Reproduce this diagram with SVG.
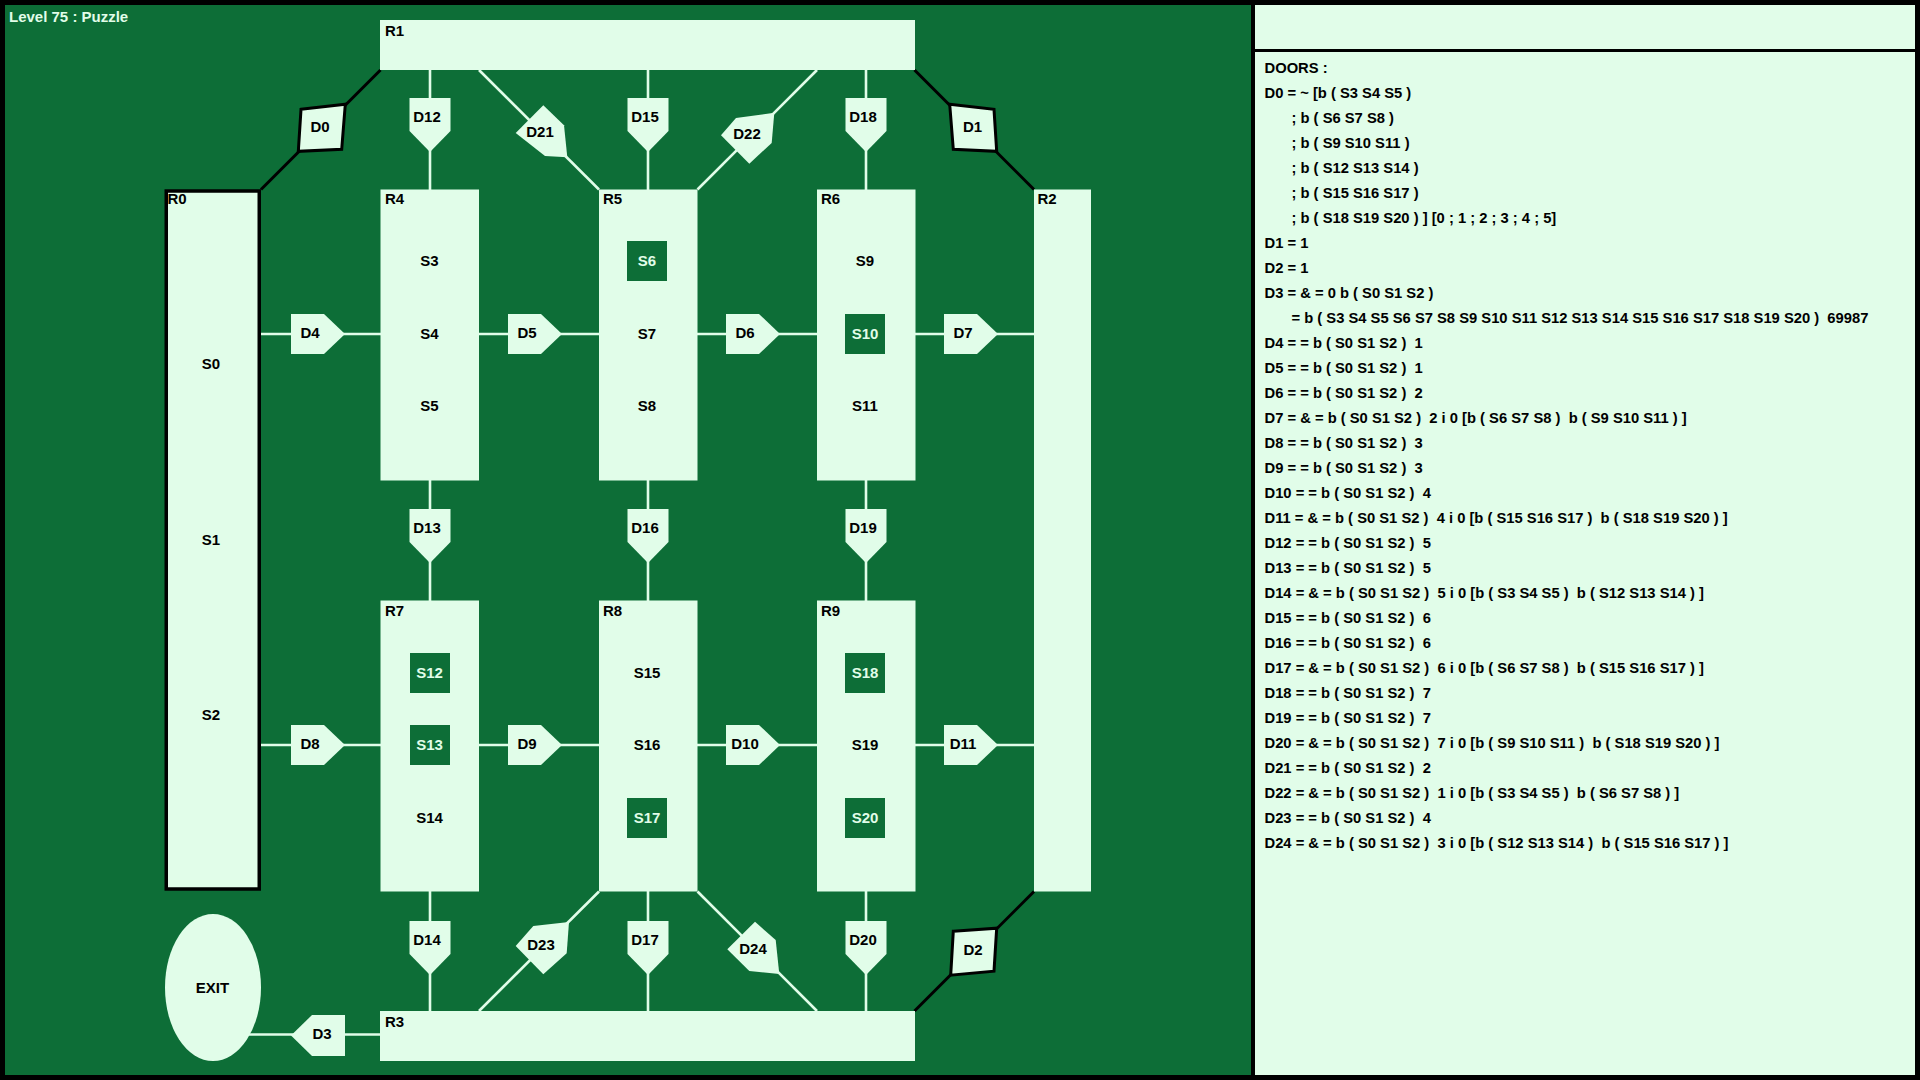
<svg xmlns="http://www.w3.org/2000/svg" xmlns:xlink="http://www.w3.org/1999/xlink" width="1920" height="1080" viewBox="0 0 1920 1080">
<style>
.bg{fill:#0d6e37}
.lt{fill:#e1fde9}
.ln{stroke:#e1fde9;stroke-width:2.6;fill:none}
.bk{stroke:#000;stroke-width:3;fill:none}
.dq{fill:#e1fde9;stroke:#000;stroke-width:3;stroke-linejoin:miter}
.sb{fill:#0d6e37}
text{font-family:"Liberation Sans",Arial,sans-serif;font-weight:bold;font-size:15px;fill:#000}
.c{text-anchor:middle}
.w{fill:#e1fde9}
.p{font-size:14.75px;white-space:pre}
</style>
<defs>
<polygon id="doorR" class="lt" points="0,-20 33,-20 54,0 33,20 0,20"/>
<polygon id="doorL" class="lt" points="0,0 21,-20.5 54,-20.5 54,20.5 21,20.5"/>
<polygon id="doorD" class="lt" points="-20.5,0 20.5,0 20.5,33 0,54 -20.5,33"/>
<rect id="sbox" class="sb" x="-20" y="-20" width="40" height="40"/>
</defs>
<rect x="0" y="0" width="1920" height="1080" fill="#000"/>
<rect class="bg" x="5" y="5" width="1246" height="1070"/>
<rect class="lt" x="1255" y="5" width="660" height="44"/>
<rect class="lt" x="1255" y="52" width="660" height="1023"/>
<text class="w" x="9" y="21.7">Level 75 : Puzzle</text>

<g id="connectors">
<line class="ln" x1="261" y1="334" x2="381" y2="334"/>
<line class="ln" x1="479" y1="334" x2="599" y2="334"/>
<line class="ln" x1="697" y1="334" x2="817" y2="334"/>
<line class="ln" x1="915" y1="334" x2="1034" y2="334"/>
<line class="ln" x1="261" y1="745" x2="381" y2="745"/>
<line class="ln" x1="479" y1="745" x2="599" y2="745"/>
<line class="ln" x1="697" y1="745" x2="817" y2="745"/>
<line class="ln" x1="915" y1="745" x2="1034" y2="745"/>
<line class="ln" x1="430" y1="70" x2="430" y2="190"/>
<line class="ln" x1="430" y1="480" x2="430" y2="601"/>
<line class="ln" x1="430" y1="891" x2="430" y2="1011"/>
<line class="ln" x1="648" y1="70" x2="648" y2="190"/>
<line class="ln" x1="648" y1="480" x2="648" y2="601"/>
<line class="ln" x1="648" y1="891" x2="648" y2="1011"/>
<line class="ln" x1="866" y1="70" x2="866" y2="190"/>
<line class="ln" x1="866" y1="480" x2="866" y2="601"/>
<line class="ln" x1="866" y1="891" x2="866" y2="1011"/>
<line class="ln" x1="479" y1="70" x2="599" y2="189.5"/>
<line class="ln" x1="817" y1="70" x2="697.5" y2="189.5"/>
<line class="ln" x1="599" y1="891.5" x2="479" y2="1011"/>
<line class="ln" x1="697.5" y1="891.5" x2="817" y2="1011"/>
<line class="ln" x1="248" y1="1034.5" x2="381" y2="1034.5"/>
<line class="bk" x1="380.5" y1="70" x2="261" y2="189.5"/>
<line class="bk" x1="914.5" y1="70" x2="1034" y2="189.5"/>
<line class="bk" x1="1034" y1="891.5" x2="914.5" y2="1011"/>
</g>

<g id="R0"><rect class="lt" x="166.25" y="191" width="93" height="698" stroke="#000" stroke-width="3.5"/><text x="167.5" y="204.3">R0</text>
<text class="c" x="211" y="369">S0</text><text class="c" x="211" y="545.3">S1</text><text class="c" x="211" y="719.5">S2</text></g>
<g id="R1"><rect class="lt" x="380" y="20" width="535" height="50"/><text x="385" y="36">R1</text></g>
<g id="R2"><rect class="lt" x="1034" y="189.5" width="57" height="702"/><text x="1037.5" y="204.3">R2</text></g>
<g id="R3"><rect class="lt" x="380" y="1011" width="535" height="50"/><text x="385" y="1027">R3</text></g>
<g id="R4"><rect class="lt" x="380.5" y="189.5" width="98.5" height="291"/><text x="385" y="204.3">R4</text>
<text class="c" x="429.5" y="265.6">S3</text><text class="c" x="429.5" y="338.9">S4</text><text class="c" x="429.5" y="411.2">S5</text></g>
<g id="R5"><rect class="lt" x="599" y="189.5" width="98.5" height="291"/><text x="603" y="204.3">R5</text>
<use href="#sbox" x="647" y="261"/><text class="c w" x="647" y="265.6">S6</text><text class="c" x="647" y="338.9">S7</text><text class="c" x="647" y="411.2">S8</text></g>
<g id="R6"><rect class="lt" x="817" y="189.5" width="98.5" height="291"/><text x="821" y="204.3">R6</text>
<text class="c" x="865" y="265.6">S9</text><use href="#sbox" x="865" y="334"/><text class="c w" x="865" y="338.9">S10</text><text class="c" x="865" y="411.2">S11</text></g>
<g id="R7"><rect class="lt" x="380.5" y="600.5" width="98.5" height="291"/><text x="385" y="616">R7</text>
<use href="#sbox" x="430" y="673"/><text class="c w" x="429.5" y="678.2">S12</text><use href="#sbox" x="430" y="745"/><text class="c w" x="429.5" y="750.3">S13</text><text class="c" x="429.5" y="823.3">S14</text></g>
<g id="R8"><rect class="lt" x="599" y="600.5" width="98.5" height="291"/><text x="603" y="616">R8</text>
<text class="c" x="647" y="678.2">S15</text><text class="c" x="647" y="750.3">S16</text><use href="#sbox" x="647" y="818"/><text class="c w" x="647" y="823.3">S17</text></g>
<g id="R9"><rect class="lt" x="817" y="600.5" width="98.5" height="291"/><text x="821" y="616">R9</text>
<use href="#sbox" x="865" y="673"/><text class="c w" x="865" y="678.2">S18</text><text class="c" x="865" y="750.3">S19</text><use href="#sbox" x="865" y="818"/><text class="c w" x="865" y="823.3">S20</text></g>
<g id="EXIT"><ellipse class="lt" cx="213" cy="987.5" rx="48" ry="73.5"/><text class="c" x="212.5" y="993.3">EXIT</text></g>

<g id="D0"><polygon class="dq" points="301,109.3 345.3,104.3 341.7,149.3 298.3,151.3"/><text class="c" x="320" y="132.3">D0</text></g>
<g id="D1"><polygon class="dq" points="949.7,104.3 994,109.3 996.7,151.3 953.3,149.3"/><text class="c" x="972.5" y="132.3">D1</text></g>
<g id="D2"><polygon class="dq" points="953.3,931.2 996.7,928.2 994,971.2 950.7,975.2"/><text class="c" x="973" y="955">D2</text></g>
<g id="D3"><use href="#doorL" x="291" y="1035.5"/><text class="c" x="322" y="1039">D3</text></g>
<g id="D4"><use href="#doorR" x="291" y="334"/><text class="c" x="310" y="337.7">D4</text></g>
<g id="D5"><use href="#doorR" x="508" y="334"/><text class="c" x="527" y="337.7">D5</text></g>
<g id="D6"><use href="#doorR" x="726" y="334"/><text class="c" x="745" y="337.7">D6</text></g>
<g id="D7"><use href="#doorR" x="944" y="334"/><text class="c" x="963" y="337.7">D7</text></g>
<g id="D8"><use href="#doorR" x="291" y="745"/><text class="c" x="310" y="748.7">D8</text></g>
<g id="D9"><use href="#doorR" x="508" y="745"/><text class="c" x="527" y="748.7">D9</text></g>
<g id="D10"><use href="#doorR" x="726" y="745"/><text class="c" x="745" y="748.7">D10</text></g>
<g id="D11"><use href="#doorR" x="944" y="745"/><text class="c" x="963" y="748.7">D11</text></g>
<g id="D12"><use href="#doorD" x="430" y="98"/><text class="c" x="427" y="121.7">D12</text></g>
<g id="D13"><use href="#doorD" x="430" y="509"/><text class="c" x="427" y="532.7">D13</text></g>
<g id="D14"><use href="#doorD" x="430" y="921"/><text class="c" x="427" y="944.7">D14</text></g>
<g id="D15"><use href="#doorD" x="648" y="98"/><text class="c" x="645" y="121.7">D15</text></g>
<g id="D16"><use href="#doorD" x="648" y="509"/><text class="c" x="645" y="532.7">D16</text></g>
<g id="D17"><use href="#doorD" x="648" y="921"/><text class="c" x="645" y="944.7">D17</text></g>
<g id="D18"><use href="#doorD" x="866" y="98"/><text class="c" x="863" y="121.7">D18</text></g>
<g id="D19"><use href="#doorD" x="866" y="509"/><text class="c" x="863" y="532.7">D19</text></g>
<g id="D20"><use href="#doorD" x="866" y="921"/><text class="c" x="863" y="944.7">D20</text></g>
<g id="D21"><polygon class="lt" points="543.3,105.3 564,125.3 567.3,157.3 545,156 515.7,133"/><text class="c" x="540" y="137">D21</text></g>
<g id="D22"><polygon class="lt" points="736,118 774.3,112.7 771.7,143 749.3,163.7 721,135.3"/><text class="c" x="747" y="139">D22</text></g>
<g id="D23"><polygon class="lt" points="533.3,926 569,922 566.7,953.3 543.3,974.3 515.7,946"/><text class="c" x="541" y="950">D23</text></g>
<g id="D24"><polygon class="lt" points="755,921.7 775.7,940 779.3,974 749.3,971 727.3,949.3"/><text class="c" x="753" y="954">D24</text></g>

<g id="doors-list">
<text class="p" x="1264.5" y="72.5">DOORS :</text>
<text class="p" x="1264.5" y="97.5">D0 = ~ [b ( S3 S4 S5 )</text>
<text class="p" x="1291.5" y="122.5">; b ( S6 S7 S8 )</text>
<text class="p" x="1291.5" y="147.5">; b ( S9 S10 S11 )</text>
<text class="p" x="1291.5" y="172.5">; b ( S12 S13 S14 )</text>
<text class="p" x="1291.5" y="197.5">; b ( S15 S16 S17 )</text>
<text class="p" x="1291.5" y="222.5">; b ( S18 S19 S20 ) ] [0 ; 1 ; 2 ; 3 ; 4 ; 5]</text>
<text class="p" x="1264.5" y="247.5">D1 = 1</text>
<text class="p" x="1264.5" y="272.5">D2 = 1</text>
<text class="p" x="1264.5" y="297.5">D3 = &amp; = 0 b ( S0 S1 S2 )</text>
<text class="p" x="1291.5" y="322.5">= b ( S3 S4 S5 S6 S7 S8 S9 S10 S11 S12 S13 S14 S15 S16 S17 S18 S19 S20 )  69987</text>
<text class="p" x="1264.5" y="347.5">D4 = = b ( S0 S1 S2 )  1</text>
<text class="p" x="1264.5" y="372.5">D5 = = b ( S0 S1 S2 )  1</text>
<text class="p" x="1264.5" y="397.5">D6 = = b ( S0 S1 S2 )  2</text>
<text class="p" x="1264.5" y="422.5">D7 = &amp; = b ( S0 S1 S2 )  2 i 0 [b ( S6 S7 S8 )  b ( S9 S10 S11 ) ]</text>
<text class="p" x="1264.5" y="447.5">D8 = = b ( S0 S1 S2 )  3</text>
<text class="p" x="1264.5" y="472.5">D9 = = b ( S0 S1 S2 )  3</text>
<text class="p" x="1264.5" y="497.5">D10 = = b ( S0 S1 S2 )  4</text>
<text class="p" x="1264.5" y="522.5">D11 = &amp; = b ( S0 S1 S2 )  4 i 0 [b ( S15 S16 S17 )  b ( S18 S19 S20 ) ]</text>
<text class="p" x="1264.5" y="547.5">D12 = = b ( S0 S1 S2 )  5</text>
<text class="p" x="1264.5" y="572.5">D13 = = b ( S0 S1 S2 )  5</text>
<text class="p" x="1264.5" y="597.5">D14 = &amp; = b ( S0 S1 S2 )  5 i 0 [b ( S3 S4 S5 )  b ( S12 S13 S14 ) ]</text>
<text class="p" x="1264.5" y="622.5">D15 = = b ( S0 S1 S2 )  6</text>
<text class="p" x="1264.5" y="647.5">D16 = = b ( S0 S1 S2 )  6</text>
<text class="p" x="1264.5" y="672.5">D17 = &amp; = b ( S0 S1 S2 )  6 i 0 [b ( S6 S7 S8 )  b ( S15 S16 S17 ) ]</text>
<text class="p" x="1264.5" y="697.5">D18 = = b ( S0 S1 S2 )  7</text>
<text class="p" x="1264.5" y="722.5">D19 = = b ( S0 S1 S2 )  7</text>
<text class="p" x="1264.5" y="747.5">D20 = &amp; = b ( S0 S1 S2 )  7 i 0 [b ( S9 S10 S11 )  b ( S18 S19 S20 ) ]</text>
<text class="p" x="1264.5" y="772.5">D21 = = b ( S0 S1 S2 )  2</text>
<text class="p" x="1264.5" y="797.5">D22 = &amp; = b ( S0 S1 S2 )  1 i 0 [b ( S3 S4 S5 )  b ( S6 S7 S8 ) ]</text>
<text class="p" x="1264.5" y="822.5">D23 = = b ( S0 S1 S2 )  4</text>
<text class="p" x="1264.5" y="847.5">D24 = &amp; = b ( S0 S1 S2 )  3 i 0 [b ( S12 S13 S14 )  b ( S15 S16 S17 ) ]</text>
</g>
</svg>
